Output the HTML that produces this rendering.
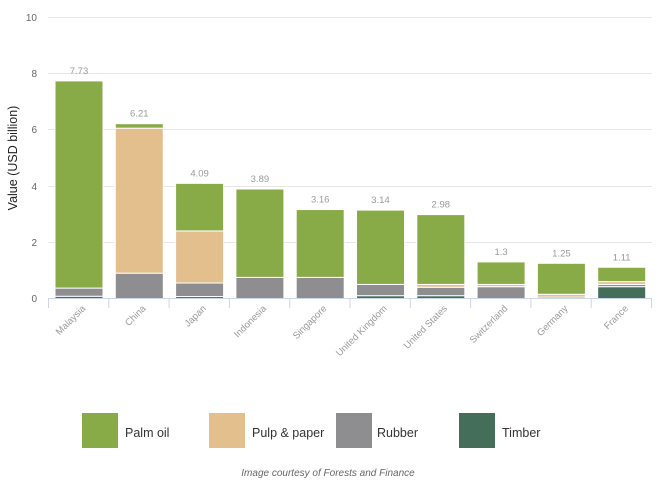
<!DOCTYPE html><html><head><style>body{margin:0;background:#fff}svg{display:block;font-family:"Liberation Sans",sans-serif}</style></head><body>
<svg width="664" height="487" viewBox="0 0 664 487">
<g stroke="#e6e6e6" stroke-width="1">
<line x1="48" x2="652" y1="17.5" y2="17.5"/><line x1="48" x2="652" y1="73.5" y2="73.5"/><line x1="48" x2="652" y1="129.5" y2="129.5"/><line x1="48" x2="652" y1="186.5" y2="186.5"/><line x1="48" x2="652" y1="242.5" y2="242.5"/></g>
<g fill="#666" font-size="10" text-anchor="end">
<text x="37" y="21">10</text><text x="37" y="77">8</text><text x="37" y="133">6</text><text x="37" y="190">4</text><text x="37" y="246">2</text><text x="37" y="302">0</text></g>
<text transform="translate(17,158) rotate(-90)" text-anchor="middle" font-size="12.5" fill="#222">Value (USD billion)</text>
<g id="bars" stroke="#fff" stroke-width="1"></g>
<line x1="48" x2="652" y1="298.5" y2="298.5" stroke="#ccd6eb"/>
<g id="ticks" stroke="#ccd6eb"></g>
<g id="lbl" fill="#999" font-size="9.5"></g>
<g font-size="12.5" fill="#333">
<rect x="82" y="413" width="36" height="35" fill="#88ab47"/><text x="125" y="437">Palm oil</text>
<rect x="209" y="413" width="36" height="35" fill="#e3bf8d"/><text x="252" y="437">Pulp &amp; paper</text>
<rect x="336" y="413" width="36" height="35" fill="#8e8e91"/><text x="377" y="437">Rubber</text>
<rect x="459" y="413" width="36" height="35" fill="#456e5a"/><text x="502" y="437">Timber</text></g>
<text x="328" y="476" text-anchor="middle" font-size="10" font-style="italic" fill="#666">Image courtesy of Forests and Finance</text>
<script>
var d=[["Malaysia",[0.08,0.29,0,7.36],"7.73"],["China",[0,0.9,5.15,0.16],"6.21"],["Japan",[0.07,0.48,1.85,1.69],"4.09"],["Indonesia",[0,0.75,0,3.14],"3.89"],["Singapore",[0,0.75,0,2.41],"3.16"],["United Kingdom",[0.1,0.4,0,2.64],"3.14"],["United States",[0.1,0.3,0.1,2.48],"2.98"],["Switzerland",[0,0.42,0.08,0.8],"1.3"],["Germany",[0,0.05,0.1,1.1],"1.25"],["France",[0.42,0.08,0.1,0.51],"1.11"]];
var c=["#456e5a","#8e8e91","#e3bf8d","#88ab47"],ns="http://www.w3.org/2000/svg",s=28.15,b=298.5;
function el(p,t,a,tx){var e=document.createElementNS(ns,t);for(var k in a)e.setAttribute(k,a[k]);if(tx)e.textContent=tx;document.getElementById(p).appendChild(e);}
d.forEach(function(r,i){var x=55+i*60.3,y=b;r[1].forEach(function(v,j){if(v<=0)return;var h=v*s;el("bars","rect",{x:x,y:y-h,width:48,height:h,fill:c[j]});y-=h;});
el("lbl","text",{x:x+24,y:y-7,"text-anchor":"middle"},r[2]);
el("lbl","text",{x:0,y:0,"text-anchor":"end",transform:"translate("+(x+31)+",309) rotate(-45)"},r[0]);
el("ticks","line",{x1:48.5+i*60.3,x2:48.5+i*60.3,y1:298,y2:308});});
el("ticks","line",{x1:651.5,x2:651.5,y1:298,y2:308});
</script>
</svg></body></html>
